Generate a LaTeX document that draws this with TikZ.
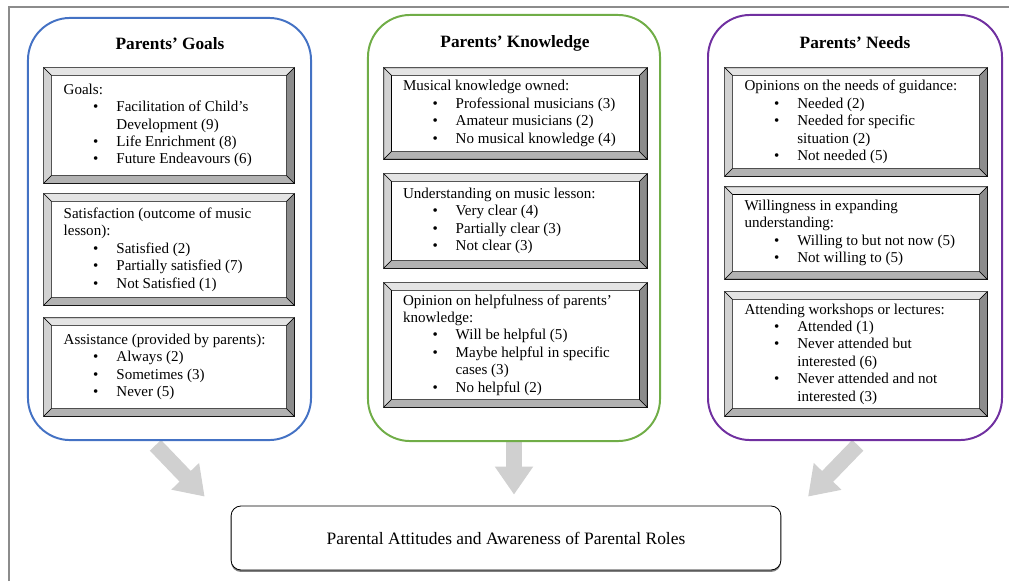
\documentclass[tikz,border=0pt]{standalone}
\usepackage{fontspec}
\setmainfont{Liberation Serif}
\usetikzlibrary{
  arrows.meta,
  backgrounds,
  shadows
}
\definecolor{goalblue}{HTML}{4472C4}
\definecolor{knowgreen}{HTML}{70AD47}
\definecolor{needpurple}{HTML}{7030A0}
\definecolor{arrowgrey}{HTML}{D0D0D0}
\definecolor{framegrey}{HTML}{8C8C8C}
\definecolor{bevtop}{HTML}{E4E4E4}
\definecolor{bevleft}{HTML}{D2D2D2}
\definecolor{bevbottom}{HTML}{B2B2B2}
\definecolor{bevright}{HTML}{8C8C8C}
\newcommand{\bodyfont}{\fontsize{10.7}{12.4}\selectfont}
\newcommand{\itembullet}{\leavevmode\hbox to 37.5pt{\hskip 21pt\textbullet\hfil}}
\newcommand{\itemcont}{\leavevmode\hspace*{37.5pt}}
\newcommand{\bevel}[1]{%
  \filldraw[fill=bevtop, line width=0.4pt] (#1.north west) -- (#1.north east)
    -- ([shift={(-5.5pt,-5.5pt)}]#1.north east) -- ([shift={(5.5pt,-5.5pt)}]#1.north west) -- cycle;
  \filldraw[fill=bevleft, line width=0.4pt] (#1.north west) -- ([shift={(5.5pt,-5.5pt)}]#1.north west)
    -- ([shift={(5.5pt,5.5pt)}]#1.south west) -- (#1.south west) -- cycle;
  \filldraw[fill=bevbottom, line width=0.4pt] (#1.south west) -- ([shift={(5.5pt,5.5pt)}]#1.south west)
    -- ([shift={(-5.5pt,5.5pt)}]#1.south east) -- (#1.south east) -- cycle;
  \filldraw[fill=bevright, line width=0.4pt] (#1.north east) -- (#1.south east)
    -- ([shift={(-5.5pt,5.5pt)}]#1.south east) -- ([shift={(-5.5pt,-5.5pt)}]#1.north east) -- cycle;
}
\tikzset{
  panel/.style={draw=#1, line width=1.4pt, rounded corners=30pt},
  paneltitle/.style={font=\fontsize{12.3}{14}\selectfont\bfseries},
  cell/.style={draw=black, line width=0.4pt, fill=white, inner sep=0pt},
  goalcell/.style={cell, minimum width=177.8pt},
  knowcell/.style={cell, minimum width=187pt},
  needcell/.style={cell, minimum width=186.4pt},
  celltext/.style={anchor=west, align=left, inner sep=0pt, font=\bodyfont},
  result/.style={
    draw=black,
    line width=0.6pt,
    rounded corners=7pt,
    fill=white,
    minimum width=391pt,
    minimum height=45.5pt,
    font=\fontsize{12.4}{14}\selectfont,
    drop shadow={shadow xshift=0pt, shadow yshift=-1.4pt, fill=black!50, opacity=1}
  },
  bigarrow/.style={draw=arrowgrey, line width=11pt, -{Triangle[length=20pt, width=26pt]}}
}

\begin{document}
\begin{tikzpicture}[x=0.025cm, y=-0.025cm]
  \useasboundingbox (0,0) rectangle (1009,581);
  \draw[framegrey, line width=0.8pt] (9,581) -- (9,7) -- (1009,7);

  % three columns
  \node[panel=goalblue, minimum width=201.3pt, minimum height=300.2pt] (gp) at (169.5,229) {};
  \node[panel=knowgreen, minimum width=207.7pt, minimum height=303pt] (kp) at (514,228) {};
  \node[panel=needpurple, minimum width=209.1pt, minimum height=302.3pt] (np) at (855,227.5) {};

  \node[paneltitle] (gt) at (170,44) {Parents’ Goals};
  \node[paneltitle] (kt) at (515,43) {Parents’ Knowledge};
  \node[paneltitle] (nt) at (855,43) {Parents’ Needs};

  % boxes
  \node[goalcell, minimum height=81.8pt] (g1) at (169,125.5) {};
  \node[goalcell, minimum height=79pt] (g2) at (169,249.5) {};
  \node[goalcell, minimum height=69.7pt] (g3) at (169,367) {};
  \node[knowcell, minimum height=64.7pt] (k1) at (515.5,113.5) {};
  \node[knowcell, minimum height=66.9pt] (k2) at (515.5,221) {};
  \node[knowcell, minimum height=88.2pt] (k3) at (515.5,345) {};
  \node[needcell, minimum height=76.8pt] (n1) at (856,122) {};
  \node[needcell, minimum height=65.4pt] (n2) at (856,233) {};
  \node[needcell, minimum height=88.2pt] (n3) at (856,354) {};

  \foreach \c in {g1,g2,g3,k1,k2,k3,n1,n2,n3} {\bevel{\c}}

  % goals
  \node[celltext] (g1t) at ([xshift=14pt]g1.west) {Goals:\\
    \itembullet Facilitation of Child’s\\
    \itemcont Development (9)\\
    \itembullet Life Enrichment (8)\\
    \itembullet Future Endeavours (6)};
  \node[celltext] (g2t) at ([xshift=14pt]g2.west) {Satisfaction (outcome of music\\
    lesson):\\
    \itembullet Satisfied (2)\\
    \itembullet Partially satisfied (7)\\
    \itembullet Not Satisfied (1)};
  \node[celltext] (g3t) at ([xshift=14pt]g3.west) {Assistance (provided by parents):\\
    \itembullet Always (2)\\
    \itembullet Sometimes (3)\\
    \itembullet Never (5)};

  % knowledge
  \node[celltext] (k1t) at ([xshift=13.5pt]k1.west) {Musical knowledge owned:\\
    \itembullet Professional musicians (3)\\
    \itembullet Amateur musicians (2)\\
    \itembullet No musical knowledge (4)};
  \node[celltext] (k2t) at ([xshift=13.5pt]k2.west) {Understanding on music lesson:\\
    \itembullet Very clear (4)\\
    \itembullet Partially clear (3)\\
    \itembullet Not clear (3)};
  \node[celltext] (k3t) at ([xshift=13.5pt]k3.west) {Opinion on helpfulness of parents’\\
    knowledge:\\
    \itembullet Will be helpful (5)\\
    \itembullet Maybe helpful in specific\\
    \itemcont cases (3)\\
    \itembullet No helpful (2)};

  % needs
  \node[celltext] (n1t) at ([xshift=14pt]n1.west) {Opinions on the needs of guidance:\\
    \itembullet Needed (2)\\
    \itembullet Needed for specific\\
    \itemcont situation (2)\\
    \itembullet Not needed (5)};
  \node[celltext] (n2t) at ([xshift=14pt]n2.west) {Willingness in expanding\\
    understanding:\\
    \itembullet Willing to but not now (5)\\
    \itembullet Not willing to (5)};
  \node[celltext] (n3t) at ([xshift=14pt]n3.west) {Attending workshops or lectures:\\
    \itembullet Attended (1)\\
    \itembullet Never attended but\\
    \itemcont interested (6)\\
    \itembullet Never attended and not\\
    \itemcont interested (3)};

  \node[result] (res) at (506,538) {Parental Attitudes and Awareness of Parental Roles};

  \begin{scope}[on background layer]
    \draw[bigarrow] ([shift={(-10pt,-3pt)}]gp.south) -- ([shift={(-18.5pt,6.4pt)}]res.north west);
    \draw[bigarrow, shorten >=7.8pt] (kp.south) -- (kp.south |- res.north);
    \draw[bigarrow] ([shift={(2pt,-3pt)}]np.south) -- ([shift={(19pt,6.4pt)}]res.north east);
  \end{scope}
\end{tikzpicture}
\end{document}
